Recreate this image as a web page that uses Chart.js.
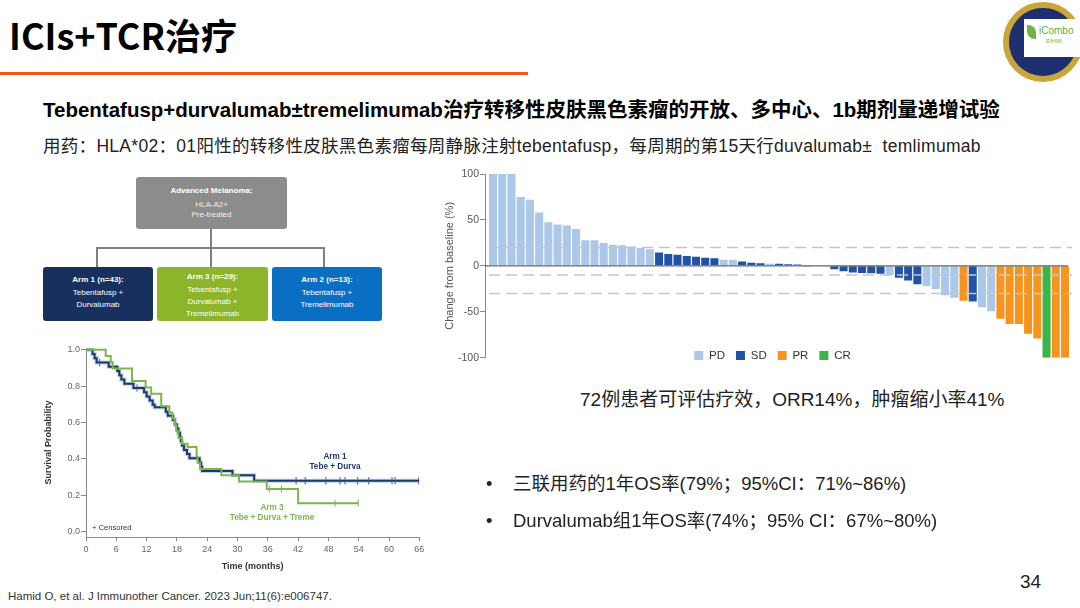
<!DOCTYPE html>
<html>
<head>
<meta charset="utf-8">
<script src="https://cdn.jsdelivr.net/npm/chart.js@4.4.1/dist/chart.umd.min.js"></script>
<style>
  html, body { margin: 0; padding: 0; background: #fff; }
  #slide { position: relative; width: 1080px; height: 608px; overflow: hidden;
           font-family: "Liberation Sans", "Noto Sans CJK SC", sans-serif; color: #222; }
  .abs { position: absolute; white-space: nowrap; }
  .line { position: absolute; background: #808080; }
  .fbox { position: absolute; color: #fff; text-align: center; font-size: 8px; line-height: 12px; border-radius: 3px; box-sizing: border-box; }
  .fbox b { display: block; margin-bottom: 1px; }
  .km-lab { position: absolute; font-weight: bold; font-size: 8.2px; line-height: 10px; text-align: center; transform: translateX(-50%); white-space: nowrap; }
</style>
</head>
<body>
<div id="slide">
  <div class="abs" style="left:9px;top:14px;font:700 36px/40px 'Noto Sans CJK SC';color:#000">ICIs+TCR治疗</div>
  <div class="abs" style="left:0;top:72px;width:528px;height:3px;background:#e85c12"></div>

  <!-- logo -->
  <div class="abs" style="left:1003px;top:2px;width:68px;height:68px;border-radius:50%;border:6px solid #c9a53a;background:#1d2f6e"></div>
  <div class="abs" style="left:1024px;top:19px;width:56px;height:38px;background:#fff">
    <div style="position:absolute;left:3px;top:6px;width:9px;height:14px;background:#6ab545;border-radius:0 8px 0 8px"></div>
    <div style="position:absolute;left:15px;top:6px;font-size:10px;color:#62b043">iCombo</div>
    <div style="position:absolute;left:22px;top:19px;font-size:4px;color:#62b043">联合用药</div>
  </div>

  <div class="abs" style="left:43px;top:98px;font:700 20.5px/24px 'Liberation Sans','Noto Sans CJK SC';color:#000">Tebentafusp+durvalumab±tremelimumab治疗转移性皮肤黑色素瘤的开放、多中心、1b期剂量递增试验</div>
  <div class="abs" style="left:43px;top:135px;font:17.5px/22px 'Liberation Sans','Noto Sans CJK SC';letter-spacing:0.3px;color:#222">用药：HLA*02：01阳性的转移性皮肤黑色素瘤每周静脉注射tebentafusp，每周期的第15天行duvalumab±&nbsp; temlimumab</div>

  <!-- flow chart -->
  <div class="fbox" style="left:136px;top:177px;width:151px;height:52px;background:#8c8c8c;line-height:10px">
    <div style="font-weight:bold;margin-top:9px">Advanced Melanoma:</div>
    <div style="margin-top:4px;color:#eee">HLA-A2+<br>Pre-treated</div>
  </div>
  <div class="line" style="left:210px;top:229px;width:1.5px;height:19px"></div>
  <div class="line" style="left:96px;top:247px;width:229px;height:1.5px"></div>
  <div class="line" style="left:96px;top:247px;width:1.5px;height:20px"></div>
  <div class="line" style="left:210px;top:247px;width:1.5px;height:20px"></div>
  <div class="line" style="left:323px;top:247px;width:1.5px;height:20px"></div>
  <div class="fbox" style="left:43px;top:267px;width:110px;height:54px;background:#17305e;padding-top:7px"><b>Arm 1 (n=43):</b>Tebentafusp +<br>Durvalumab</div>
  <div class="fbox" style="left:157px;top:267px;width:111px;height:54px;background:#8cb52b;padding-top:4px"><b>Arm 3 (n=29):</b>Tebentafusp +<br>Durvalumab +<br>Tremelimumab</div>
  <div class="fbox" style="left:272px;top:267px;width:110px;height:54px;background:#0a6fc2;padding-top:7px"><b>Arm 2 (n=13):</b>Tebentafusp +<br>Tremelimumab</div>

  <!-- KM curve -->
  <div class="abs" style="left:40px;top:340px;width:390px;height:240px"><canvas id="km" width="390" height="240"></canvas></div>
  <div class="km-lab" style="left:335px;top:452px;color:#1f3864">Arm 1<br>Tebe + Durva</div>
  <div class="km-lab" style="left:272px;top:503px;color:#7ab648">Arm 3<br>Tebe + Durva + Treme</div>
  <div class="abs" style="left:92px;top:523px;font-size:7.6px;color:#333">+ Censored</div>

  <!-- waterfall -->
  <div class="abs" style="left:440px;top:165px;width:640px;height:200px"><canvas id="waterfall" width="640" height="200"></canvas></div>

  <div class="abs" style="left:580px;top:388px;font:19px/23px 'Liberation Sans','Noto Sans CJK SC';color:#222">72例患者可评估疗效，ORR14%，肿瘤缩小率41%</div>
  <div class="abs" style="left:486px;top:472px;font:18.5px/23px 'Liberation Sans','Noto Sans CJK SC';color:#222">•</div>
  <div class="abs" style="left:513px;top:472px;font:18.5px/23px 'Liberation Sans','Noto Sans CJK SC';color:#222">三联用药的1年OS率(79%；95%CI：71%~86%)</div>
  <div class="abs" style="left:486px;top:509px;font:18.5px/23px 'Liberation Sans','Noto Sans CJK SC';color:#222">•</div>
  <div class="abs" style="left:513px;top:509px;font:18.5px/23px 'Liberation Sans','Noto Sans CJK SC';color:#222">Durvalumab组1年OS率(74%；95% CI：67%~80%)</div>
  <div class="abs" style="left:1020px;top:571px;font:19px/22px 'Liberation Sans';color:#222">34</div>
  <div class="abs" style="left:8px;top:589px;font:11.5px/14px 'Liberation Sans';color:#333">Hamid O, et al. J Immunother Cancer. 2023 Jun;11(6):e006747.</div>
</div>

<script>
// waterfall: best % change from baseline, one bar per patient, sorted
const waterfallChange = [
  100, 100, 100, 75, 72, 58, 47.5, 45, 44, 40,
  28, 28, 25, 23, 22.5, 21, 19.5, 18, 14.5, 13,
  12, 10.6, 10, 8.8, 8.4, 6.6, 6.6, 4.8, 3.5, 2.7,
  2.2, 2.2, 1.8, 1.5, -0.8, 0, 0, -3.6, -5.8, -7.2,
  -7.8, -8, -8.6, -10, -13, -16, -20, -22, -25.5, -32,
  -34.7, -38, -38.7, -45, -49.5, -57.5, -63.3, -63.3, -74, -79,
  -100, -100, -100
];
const waterfallResponse = [
  'PD','PD','PD','PD','PD','PD','PD','PD','PD','PD',
  'PD','PD','PD','PD','PD','PD','PD','PD','SD','SD',
  'SD','SD','SD','SD','SD','PD','PD','SD','SD','SD',
  'PD','SD','SD','SD','SD','SD','SD','SD','SD','SD',
  'SD','SD','SD','PD','SD','SD','SD','PD','PD','PD',
  'PD','PR','SD','PD','PD','PR','PR','PR','PR','PR',
  'CR','PR','PR'
];
const responseTypes = ['PD', 'SD', 'PR', 'CR'];
const responseColors = ['#abc8ea', '#2152a3', '#f7941d', '#39b54a'];
const refLines = [20, -10, -30];
const waterfallTicks = [100, 50, 0, -50, -100];

// Kaplan-Meier, overall survival
const arm1Time = [0, 1.3, 1.7, 2.1, 4.5, 6.2, 6.6, 7.0, 7.6, 9.4, 11.5, 12.0, 12.6, 13.2, 13.6, 15.8, 16.2, 17.2, 17.6, 18.0, 18.3, 18.6, 18.8, 19.0, 19.4, 20.0, 20.5, 22.5, 22.8, 23.0, 29.0, 33.3, 66];
const arm1Surv = [1.0, 0.977, 0.953, 0.93, 0.907, 0.884, 0.86, 0.837, 0.814, 0.79, 0.767, 0.744, 0.721, 0.698, 0.684, 0.66, 0.637, 0.614, 0.59, 0.567, 0.544, 0.52, 0.497, 0.474, 0.45, 0.427, 0.404, 0.381, 0.357, 0.334, 0.31, 0.28, 0.28];
const arm3Time = [0, 3.9, 4.9, 5.3, 9.1, 11.8, 12.9, 14.9, 16.5, 17.1, 17.6, 17.9, 18.3, 19.0, 20.1, 21.9, 22.1, 22.6, 26.8, 30.3, 35.8, 42.0, 53.9];
const arm3Surv = [1.0, 0.966, 0.931, 0.897, 0.828, 0.793, 0.759, 0.69, 0.655, 0.621, 0.586, 0.552, 0.517, 0.483, 0.466, 0.414, 0.379, 0.345, 0.31, 0.276, 0.235, 0.157, 0.157];
const arm1CensorTime = [2.7, 10.1, 41.6, 43.4, 47.5, 50.3, 51.3, 53.8, 56.0, 60.6, 61.2, 65.9];
const arm1CensorSurv = [0.93, 0.79, 0.28, 0.28, 0.28, 0.28, 0.28, 0.28, 0.28, 0.28, 0.28, 0.28];
const arm3CensorTime = [36.3, 38.7, 49.3, 53.9];
const arm3CensorSurv = [0.235, 0.235, 0.157, 0.157];
const kmYTicks = [0, 0.2, 0.4, 0.6, 0.8, 1.0];

Chart.defaults.font.family = "'Liberation Sans', Arial, sans-serif";

const pts = (xs, ys) => xs.map((x, i) => ({ x: x, y: ys[i] }));

// move legend up into the plot, on the -100 line
const legendShift = {
  id: 'legendShift',
  afterLayout(chart) {
    const lg = chart.legend, a = chart.chartArea;
    lg.top = a.bottom - 19;
    lg.bottom = chart.height;
    lg.height = lg.bottom - lg.top;
    lg.left = a.left - 6;
    lg.right = a.right - 6;
    lg.width = lg.right - lg.left;
  }
};

// dashed reference lines and the zero line
const refLinePlugin = {
  id: 'refLines',
  afterDatasetsDraw(chart) {
    const { ctx, chartArea: a, scales: { y } } = chart;
    ctx.save();
    ctx.lineWidth = 1.5;
    ctx.strokeStyle = '#c6c6c6';
    ctx.setLineDash([11, 6]);
    refLines.forEach(v => {
      const py = y.getPixelForValue(v);
      ctx.beginPath();
      ctx.moveTo(a.left + 4, py);
      ctx.lineTo(a.right, py);
      ctx.stroke();
    });
    ctx.setLineDash([]);
    ctx.strokeStyle = '#666';
    ctx.lineWidth = 1.2;
    const z = y.getPixelForValue(0);
    ctx.beginPath();
    ctx.moveTo(a.left, z);
    ctx.lineTo(a.right - 4, z);
    ctx.stroke();
    ctx.restore();
  }
};

new Chart(document.getElementById('waterfall'), {
  type: 'bar',
  data: {
    datasets: responseTypes.map((r, k) => ({
      label: r,
      data: pts(waterfallChange.map((v, i) => i + 1), waterfallChange).filter((p, i) => waterfallResponse[i] === r),
      backgroundColor: responseColors[k],
      borderWidth: 0,
      barPercentage: 0.87,
      categoryPercentage: 1
    }))
  },
  options: {
    responsive: false,
    animation: false,
    layout: { padding: { top: 9, right: 8, bottom: 6, left: 0 } },
    scales: {
      x: { type: 'linear', offset: false, bounds: 'data', min: 0.13, max: 63.76, stacked: true, display: false, grid: { offset: false } },
      y: {
        min: -100, max: 100, stacked: true,
        afterBuildTicks: s => { s.ticks = waterfallTicks.map(v => ({ value: v })); },
        afterFit: s => { s.width = 45; },
        ticks: { color: '#555', padding: 1, font: { size: 10.5 } },
        grid: { drawOnChartArea: false, tickLength: 5, tickColor: '#8a8a8a' },
        border: { color: '#8a8a8a' },
        title: { display: true, text: 'Change from baseline (%)', color: '#555', font: { size: 11 }, padding: { top: 3, bottom: 0 } }
      }
    },
    plugins: {
      legend: {
        position: 'bottom', maxHeight: 1,
        labels: { boxWidth: 9, boxHeight: 9, padding: 11, color: '#333', font: { size: 11.5 } }
      },
      tooltip: { enabled: false }
    }
  },
  plugins: [legendShift, refLinePlugin]
});

const navy = '#1f3864', green = '#7ab648';

new Chart(document.getElementById('km'), {
  type: 'scatter',
  data: {
    datasets: [
      { label: 'Arm 3', data: pts(arm3Time, arm3Surv), showLine: true, stepped: true, borderColor: green, borderWidth: 2, pointRadius: 0 },
      { label: 'Arm 1', data: pts(arm1Time, arm1Surv), showLine: true, stepped: true, borderColor: navy, borderWidth: 2, pointRadius: 0 },
      { label: 'Arm 1 halo', data: pts(arm1Time, arm1Surv), showLine: true, stepped: true, borderColor: 'rgba(160,185,225,0.7)', borderWidth: 4, pointRadius: 0 },
      { label: 'Arm 3 censored', data: pts(arm3CensorTime, arm3CensorSurv), pointStyle: 'line', rotation: 90, radius: 3.5, borderColor: green, borderWidth: 1 },
      { label: 'Arm 1 censored', data: pts(arm1CensorTime, arm1CensorSurv), pointStyle: 'line', rotation: 90, radius: 3.5, borderColor: navy, borderWidth: 1 }
    ]
  },
  options: {
    responsive: false,
    animation: false,
    layout: { padding: { top: 8, right: 10.7, bottom: 4.8, left: 0 } },
    scales: {
      x: {
        type: 'linear', min: 0, max: 66,
        afterFit: s => { s.height = 38; },
        ticks: { stepSize: 6, color: '#666', padding: 3, font: { size: 9 } },
        grid: { drawOnChartArea: false, tickLength: 4, tickColor: '#8a8a8a' },
        border: { color: '#8a8a8a' },
        title: { display: true, text: 'Time (months)', color: '#333', font: { size: 9, weight: 'bold' }, padding: { top: 0, bottom: 3 } }
      },
      y: {
        min: -0.03, max: 1.01,
        afterBuildTicks: s => { s.ticks = kmYTicks.map(v => ({ value: v })); },
        afterFit: s => { s.width = 46; },
        ticks: { color: '#666', padding: 1, font: { size: 9 }, callback: v => v.toFixed(1) },
        grid: { drawOnChartArea: false, tickLength: 5, tickColor: '#8a8a8a' },
        border: { color: '#8a8a8a' },
        title: { display: true, text: 'Survival Probability', color: '#333', font: { size: 9, weight: 'bold' }, padding: { top: 3.6, bottom: 0 } }
      }
    },
    plugins: { legend: { display: false }, tooltip: { enabled: false } }
  }
});
</script>
</body>
</html>
